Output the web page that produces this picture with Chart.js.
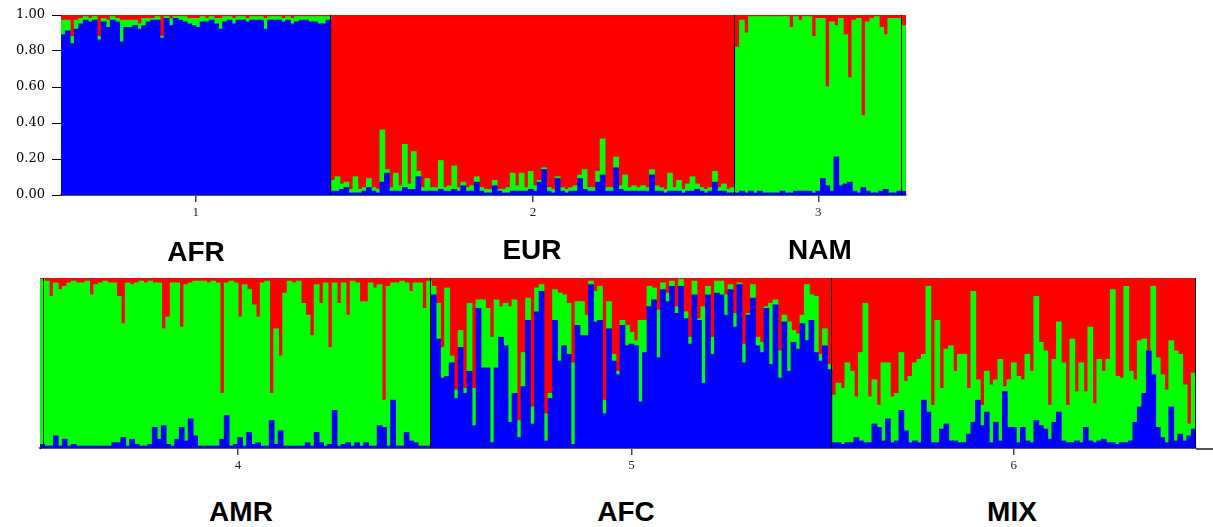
<!DOCTYPE html>
<html>
<head>
<meta charset="utf-8">
<script src="https://cdn.jsdelivr.net/npm/chart.js@4/dist/chart.umd.min.js"></script>
<style>
	body { margin: 0; background: #fff; }
	#wrap { position: relative; width: 1213px; height: 527px; overflow: hidden; }
	canvas { position: absolute; left: 0; }
	#topChart { top: 0; }
	#bottomChart { top: 262px; }
	.pop { position: absolute; transform: translate(-50%, -50%); font: bold 28px "Liberation Sans", Arial, sans-serif; color: #000; }
</style>
</head>
<body>
<div id="wrap">
	<canvas id="topChart" width="913" height="232"></canvas>
	<canvas id="bottomChart" width="1213" height="215"></canvas>
	<div class="pop" style="left:196px; top:252px;">AFR</div>
	<div class="pop" style="left:532px; top:250px;">EUR</div>
	<div class="pop" style="left:820px; top:250px;">NAM</div>
	<div class="pop" style="left:241px; top:512px;">AMR</div>
	<div class="pop" style="left:626px; top:512px;">AFC</div>
	<div class="pop" style="left:1012px; top:512px;">MIX</div>
</div>
<script>
// membership in percent per individual (red is what is left over)
const afrBlue = [89,91,84,92,95,97,96,97,86,96, 93,97,96,85,93,93,94,92,94,96, 97,97,87,98,94,98,97,96,95,94,
	93,96,96,97,95,92,96,97,95,97, 97,96,97,97,97,92,97,97,97,96, 97,95,96,97,97,96,96,95,95,97];
const afrGreen = [8,6,4,5,3,2,2,2,2,2, 4,2,2,12,4,4,3,3,4,2, 1,2,1,1,4,1,2,3,3,4,
	5,3,2,2,3,6,3,2,3,2, 2,2,2,2,2,6,2,2,2,2, 2,3,3,2,2,3,3,4,4,2];

const eurBlue = [2,2,3,4,1,1,1,2,4,2, 1,7,12,2,2,2,4,3,3,10, 2,2,2,2,3,2,2,3,2,5,
	2,2,7,2,1,1,5,2,1,1, 2,2,2,2,3,2,7,14,2,1, 9,2,1,2,2,9,3,2,2,7,
	11,2,2,15,3,2,2,2,2,2, 2,11,2,2,1,2,2,2,1,2, 2,3,2,1,2,7,2,2,1,1];
const eurGreen = [6,8,3,3,2,9,2,2,5,2, 2,29,2,2,10,3,24,3,21,3, 2,7,2,2,16,2,3,13,2,2,
	2,3,3,2,2,2,3,1,2,3, 10,3,10,2,10,3,1,1,2,2, 1,2,2,2,3,2,11,2,2,6,
	20,2,2,6,2,9,2,3,2,3, 2,3,3,2,2,10,2,6,2,4, 8,3,2,2,2,6,2,4,2,3];

const namBlue = [1,2,1,2,1,2,1,1,1,1, 2,1,1,2,2,2,2,1,2,9, 5,2,21,5,6,7,2,1,4,2, 1,1,2,3,1,1,2];
const namGreen = [81,95,89,97,98,97,98,98,98,98, 97,98,92,97,95,97,97,87,96,89,
	55,94,73,93,83,58,95,97,40,94, 97,98,91,86,97,97,96];

const tailBlue = [2];
const tailGreen = [92];

const headBlue = [2];
const headGreen = [97];

const amrBlue = [1,1,7,1,5,1,2,1,1,1, 1,1,1,1,1,3,3,6,1,5, 2,1,1,2,12,5,13,2,1,5,
	12,4,17,7,1,1,1,1,1,5, 19,1,2,6,1,9,2,3,1,1, 16,2,10,1,1,1,1,1,3,1,
	9,3,1,2,22,1,2,3,1,3, 1,3,1,1,13,12,1,28,1,1, 9,4,3,1,1,1];
const amrGreen = [97,88,90,92,90,96,96,96,96,97, 89,95,96,97,96,94,86,67,96,91,
	95,97,96,96,85,92,57,75,96,92, 59,92,80,91,97,97,96,97,96,27,
	78,97,95,71,95,84,82,74,96,97, 16,68,44,90,97,96,97,84,75,65,
	87,82,96,57,75,84,95,75,97,94, 85,83,96,93,83,16,94,69,96,97, 88,88,94,96,81,97];

const afcBlue = [90,64,41,42,50,29,59,32,45,13, 82,47,47,3,47,65,60,15,32,6,
	36,75,14,80,92,4,29,75,51,60, 55,2,72,66,66,96,74,75,20,70,
	51,43,72,60,61,60,27,56,83,87, 53,93,86,95,79,95,76,61,90,75,
	38,90,55,91,90,78,93,71,96,50, 78,88,60,56,82,49,84,41,74,45,
	62,58,73,63,75,56,51,60,46];
const afcGreen = [5,21,18,52,4,5,10,3,40,22, 5,40,35,62,40,18,25,68,55,10,
	20,13,10,14,4,16,3,18,40,30, 30,48,14,20,12,2,18,20,8,16,
	4,2,3,12,7,3,48,19,12,7, 28,4,5,3,4,4,4,4,8,1,
	45,5,10,7,8,12,3,8,1,11, 1,8,5,6,1,36,3,16,4,29,
	7,9,5,33,15,33,4,10,3];

const mixBlue = [3,3,2,3,3,6,4,3,3,14, 12,4,17,3,4,22,10,3,4,3, 28,21,3,3,11,14,4,4,3,3,
	8,15,28,13,21,3,15,4,33,12, 12,3,12,4,3,16,13,11,5,15, 21,4,3,3,4,3,12,4,3,4,
	5,3,3,2,3,3,4,15,24,32, 57,43,12,6,3,24,4,8,4,7, 11];
const mixGreen = [28,35,33,47,42,24,52,82,27,26, 13,46,33,27,28,34,29,39,46,49,
	27,74,22,72,24,44,56,41,52,52, 27,77,12,12,24,34,25,48,3,28,
	38,39,28,51,42,73,49,46,20,37, 53,46,22,61,29,47,21,67,23,48,
	40,49,90,40,38,92,41,25,39,32, 0,52,41,37,31,39,53,47,33,7, 33];

const topTickLabels = ['1', '2', '3'];
const bottomTickLabels = ['4', '5', '6'];
const yTickLabels = ['0.00', '0.20', '0.40', '0.60', '0.80', '1.00'];

const BLUE = '#0000ff';
const GREEN = '#00ff00';
const RED = '#ff0000';

const separators = {
	id: 'separators',
	afterDatasetsDraw(chart, args, opts) {
		const { ctx, chartArea } = chart;
		const x2 = chart.scales.x2;
		ctx.save();
		ctx.strokeStyle = '#000';
		ctx.lineWidth = 1;
		opts.at.forEach(v => {
			const px = Math.round(x2.getPixelForValue(v)) - 0.5;
			ctx.beginPath();
			ctx.moveTo(px, chartArea.top);
			ctx.lineTo(px, chartArea.bottom);
			ctx.stroke();
		});
		if (opts.extend) {
			ctx.strokeStyle = '#555';
			ctx.lineWidth = 2;
			ctx.beginPath();
			ctx.moveTo(chartArea.right, chartArea.bottom + 1);
			ctx.lineTo(chart.width, chartArea.bottom + 1);
			ctx.stroke();
		}
		ctx.restore();
	}
};

function makePanel(id, groups, tickGroups, tickLabels, layout) {
	const blue = [], green = [], red = [];
	const bounds = [];
	const centers = [];
	let n = 0;
	groups.forEach((g, gi) => {
		g.blue.forEach((b, i) => {
			blue.push(b / 100);
			green.push(g.green[i] / 100);
			red.push((100 - b - g.green[i]) / 100);
		});
		if (tickGroups.includes(gi)) centers.push(n + g.blue.length / 2);
		n += g.blue.length;
		bounds.push(n);
	});
	if (!layout.edge) bounds.pop();

	const ctx = document.getElementById(id).getContext('2d');
	return new Chart(ctx, {
		type: 'bar',
		data: {
			labels: blue.map((_, i) => String(i + 1)),
			datasets: [
				{ data: blue, backgroundColor: BLUE },
				{ data: green, backgroundColor: GREEN },
				{ data: red, backgroundColor: RED }
			].map(d => Object.assign(d, {
				xAxisID: 'x',
				borderWidth: 0,
				barPercentage: 1,
				categoryPercentage: 1,
				inflateAmount: 0.6
			}))
		},
		options: {
			responsive: false,
			devicePixelRatio: 1,
			animation: false,
			layout: { padding: { top: layout.top, right: layout.right, left: 0, bottom: 0 } },
			plugins: {
				legend: { display: false },
				tooltip: { enabled: false },
				separators: { at: bounds, extend: layout.extend }
			},
			scales: {
				x: { type: 'category', display: false, stacked: true, offset: true },
				x2: {
					type: 'linear',
					position: 'bottom',
					offset: false,
					bounds: 'data',
					min: 0,
					max: n,
					afterBuildTicks: s => { s.ticks = centers.map(v => ({ value: v })); },
					afterFit: s => { s.height = layout.bottom; },
					ticks: {
						autoSkip: false,
						maxRotation: 0,
						padding: 3,
						color: '#222',
						font: { family: '"Liberation Serif", serif', size: 13 },
						callback: (v, i) => tickLabels[i]
					},
					grid: { offset: false, drawOnChartArea: false, drawTicks: true, tickLength: 7, color: '#444', lineWidth: 1.5 },
					border: { display: true, color: '#555', width: 2 }
				},
				y: {
					stacked: true,
					min: 0,
					max: 1,
					afterBuildTicks: s => { if (layout.yLabels) s.ticks = yTickLabels.map(t => ({ value: parseFloat(t) })); },
					afterFit: s => { s.width = layout.left; },
					ticks: {
						display: layout.yLabels,
						padding: 7,
						color: '#000',
						font: { family: '"DejaVu Serif", serif', size: 13 },
						callback: (v, i) => yTickLabels[i]
					},
					grid: { drawOnChartArea: false, drawTicks: layout.yLabels, tickLength: 9, color: '#000' },
					border: { display: true, color: '#000', width: 1 }
				}
			}
		},
		plugins: [separators]
	});
}

makePanel('topChart', [
	{ blue: afrBlue, green: afrGreen },
	{ blue: eurBlue, green: eurGreen },
	{ blue: namBlue, green: namGreen },
	{ blue: tailBlue, green: tailGreen }
], [0, 1, 2], topTickLabels, { top: 15, right: 7, left: 61, bottom: 37, yLabels: true, extend: false, edge: false });

makePanel('bottomChart', [
	{ blue: headBlue, green: headGreen },
	{ blue: amrBlue, green: amrGreen },
	{ blue: afcBlue, green: afcGreen },
	{ blue: mixBlue, green: mixGreen }
], [1, 2, 3], bottomTickLabels, { top: 16, right: 17, left: 40, bottom: 29, yLabels: false, extend: true, edge: true });
</script>
</body>
</html>
